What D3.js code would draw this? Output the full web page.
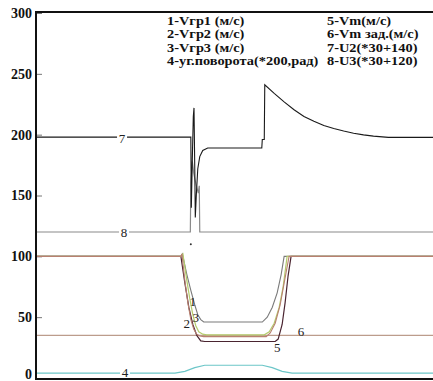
<!DOCTYPE html>
<html>
<head>
<meta charset="utf-8">
<script src="https://cdn.jsdelivr.net/npm/d3@7"></script>
<style>
  body { margin: 0; background: #fff; }
  svg { display: block; }
  .serif { font-family: "Liberation Serif", Tinos, "Times New Roman", Times, "DejaVu Serif", serif; }
  .tick text { font-weight: bold; font-size: 14px; fill: #111; }
  .tick line { stroke: #777; }
  .legend text { font-weight: bold; font-size: 12.5px; fill: #111; }
  .clabel { font-size: 13px; fill: #222; }
</style>
</head>
<body>
<svg id="chart"></svg>
<script>
// time (s, arbitrary) vs value
const yTicks = [0, 50, 100, 150, 200, 250, 300];

const legendLeft = ['1-Vгр1 (м/с)', '2-Vгр2 (м/с)', '3-Vгр3 (м/с)', '4-уг.поворота(*200,рад)'];
const legendRight = ['5-Vm(м/с)', '6-Vm зад.(м/с)', '7-U2(*30+140)', '8-U3(*30+120)'];

// 7 - U2
const u2 = [
  [0, 198], [15.55, 198], [15.6, 198], [15.65, 140], [15.75, 180], [15.85, 215], [15.92, 222],
  [16.0, 170], [16.05, 132], [16.15, 150], [16.3, 172], [16.5, 182], [16.8, 187], [17.3, 189],
  [22.75, 189], [22.8, 196], [23.0, 196], [23.05, 241], [24, 234], [25, 227], [26, 220.5],
  [27, 215], [28, 211], [29, 207.5], [30, 205], [31, 203], [32, 201.2], [33, 199.8],
  [34, 198.8], [35.5, 197.8], [40, 197.8]
];
// 8 - U3
const u3 = [
  [0, 120], [15.55, 120], [15.6, 160], [15.75, 178], [15.9, 168], [16.1, 160],
  [16.35, 152], [16.45, 158], [16.5, 120], [40, 120]
];
// 6 - Vm set
const vmSet = [[0, 35], [40, 35]];
// 5 - Vm
const vm = [
  [0, 100], [14.6, 100], [15.0, 78], [15.4, 58], [15.8, 44], [16.2, 35], [16.6, 30.5], [17.0, 30],
  [24.1, 30], [24.4, 32], [24.8, 44], [25.1, 62], [25.4, 84], [25.7, 100], [40, 100]
];
// 3 - Vgr3
const v3 = [
  [0, 100], [14.6, 100], [14.75, 102], [15.2, 85], [15.6, 72], [16.0, 60], [16.3, 52],
  [16.6, 48], [16.9, 46], [22.8, 46], [23.3, 50], [23.8, 58], [24.3, 70], [24.7, 85],
  [25.0, 100], [40, 100]
];
// 1 - Vgr1
const v1 = [
  [0, 100], [14.6, 100], [14.8, 102], [15.2, 80], [15.5, 65], [15.8, 52], [16.1, 43],
  [16.4, 38], [16.8, 36], [17.2, 35.5], [23.0, 35.5], [23.5, 38], [24.0, 45], [24.5, 58],
  [24.9, 75], [25.3, 100], [40, 100]
];
// 2 - Vgr2
const v2 = [
  [0, 100], [14.6, 100], [14.7, 102], [15.0, 80], [15.3, 62], [15.6, 48], [15.9, 40],
  [16.2, 36], [16.5, 34.5], [16.9, 34], [23.2, 34], [23.6, 37], [24.1, 45], [24.6, 60],
  [25.0, 78], [25.5, 100], [40, 100]
];
// 4 - steering angle
const angle = [
  [0, 4], [14.0, 4], [15.0, 5.5], [16.0, 8.5], [17.0, 10.5], [22.8, 10.5], [23.8, 8.5],
  [24.8, 5.5], [25.8, 4], [40, 4]
];
const strayDot = [[15.6, 110]];

const curveLabels = [
  { text: '7', t: 8.67, v: 197, boxed: true },
  { text: '8', t: 8.87, v: 120, boxed: true },
  { text: '4', t: 8.97, v: 4.5, boxed: true },
  { text: '1', t: 15.8, v: 63 },
  { text: '3', t: 16.1, v: 50 },
  { text: '2', t: 15.2, v: 45 },
  { text: '5', t: 24.3, v: 25.5 },
  { text: '6', t: 26.7, v: 38.6 }
];

const width = 433, height = 381;
const margin = { left: 36, top: 13, bottom: 378, right: 434 };

const svg = d3.select('#chart').attr('width', width).attr('height', height)
  .attr('class', 'serif');

const x = d3.scaleLinear().domain([0, 40]).range([margin.left, margin.right - 1]);
const y = d3.scaleLinear().domain([0, 300]).range([margin.bottom, margin.top]);

const line = d3.line().x(d => x(d[0])).y(d => y(d[1]));

// Axis with small inward ticks
svg.append('g')
  .attr('transform', `translate(${margin.left},0)`)
  .call(d3.axisLeft(y).tickValues(yTicks).tickSize(-6).tickPadding(4))
  .call(g => g.attr('font-family', null).attr('font-size', null))
  .call(g => g.select('.domain').remove())
  // keep the bottom label inside the picture
  .call(g => g.selectAll('.tick text').filter(d => d === 0).attr('dy', '0.05em'));

// Series
const series = [
  { data: vmSet, color: '#bc9c8c', w: 1.2 },
  { data: angle, color: '#6cc6c8', w: 1.2 },
  { data: vm, color: '#4a2430', w: 1.2 },
  { data: v3, color: '#7a7a7a', w: 1.1 },
  { data: v1, color: '#b4cc6c', w: 1.2 },
  { data: v2, color: '#b88070', w: 1.1 },
  { data: u3, color: '#8a8a8a', w: 1.2 },
  { data: u2, color: '#1a1a1a', w: 1.1 }
];

svg.append('g').selectAll('path')
  .data(series)
  .join('path')
  .attr('fill', 'none')
  .attr('stroke', d => d.color)
  .attr('stroke-width', d => d.w)
  .attr('d', d => line(d.data));

svg.selectAll('circle.dot')
  .data(strayDot)
  .join('circle')
  .attr('class', 'dot')
  .attr('cx', d => x(d[0]))
  .attr('cy', d => y(d[1]))
  .attr('r', 1)
  .attr('fill', '#333');

// Curve number labels
const lbl = svg.append('g').selectAll('g')
  .data(curveLabels)
  .join('g')
  .attr('transform', d => `translate(${x(d.t)},${y(d.v)})`);
lbl.filter(d => d.boxed).append('rect')
  .attr('x', -5).attr('y', -6).attr('width', 10).attr('height', 12)
  .attr('fill', '#fff');
lbl.append('text')
  .attr('class', 'clabel')
  .attr('text-anchor', 'middle')
  .attr('dy', '0.35em')
  .text(d => d.text);

// Frame: left, top, bottom
const frame = svg.append('g').attr('stroke', '#111').attr('stroke-width', 2);
frame.append('line').attr('x1', margin.left).attr('x2', margin.left).attr('y1', margin.top - 1).attr('y2', margin.bottom + 1);
frame.append('line').attr('x1', margin.left - 1).attr('x2', margin.right).attr('y1', margin.top - 1).attr('y2', margin.top - 1);
frame.append('line').attr('x1', margin.left - 1).attr('x2', margin.right).attr('y1', margin.bottom + 1).attr('y2', margin.bottom + 1);

// Legend (the original type is a bit wider than Times)
const legend = svg.append('g').attr('class', 'legend');
legend.selectAll('text.l')
  .data(legendLeft)
  .join('text')
  .attr('class', 'l')
  .attr('transform', (d, i) => `translate(167,${25 + i * 13.4}) scale(1.15,1)`)
  .text(d => d);
legend.selectAll('text.r')
  .data(legendRight)
  .join('text')
  .attr('class', 'r')
  .attr('transform', (d, i) => `translate(327,${25 + i * 13.4}) scale(1.15,1)`)
  .text(d => d);
</script>
</body>
</html>
